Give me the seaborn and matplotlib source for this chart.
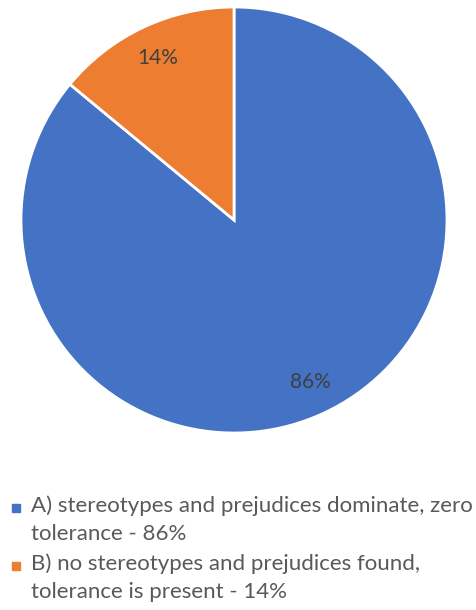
import matplotlib
matplotlib.use("Agg")
import matplotlib.pyplot as plt
import seaborn as sns
from matplotlib.patches import Rectangle

categories = ["A) stereotypes and prejudices dominate, zero\ntolerance - 86%",
              "B) no stereotypes and prejudices found,\ntolerance is present - 14%"]
values = [86, 14]
colors = ["#4472C4", "#ED7D31"]

sns.set_theme(style="white")
plt.rcParams['font.family'] = ['Lato', 'DejaVu Sans']

W, H = 477, 610
fig = plt.figure(figsize=(W / 100, H / 100), dpi=100)
cx, cy, r = 234, 220, 213
ax = fig.add_axes([(cx - r) / W, 1 - (cy + r) / H, 2 * r / W, 2 * r / H])
wedges, texts, autotexts = ax.pie(
    values, colors=colors, startangle=90, counterclock=False,
    autopct=lambda p: f"{p:.0f}%", pctdistance=0.84,
    wedgeprops=dict(edgecolor="white", linewidth=2),
    textprops=dict(color="#404040", fontsize=15))
ax.set_xlim(-1, 1)
ax.set_ylim(-1, 1)
ax.set_aspect("auto")
ax.axis("off")

line_tops = [495, 553]
for i, (lab, col) in enumerate(zip(categories, colors)):
    y0 = line_tops[i]
    fig.patches.append(Rectangle((12 / W, 1 - (y0 + 17) / H), 8 / W, 8 / H,
                                 transform=fig.transFigure, color=col))
    fig.text(31 / W, 1 - y0 / H, lab, ha="left", va="top", fontsize=16,
             color="#595959", linespacing=1.5)

fig.savefig("out.png", dpi=100)
